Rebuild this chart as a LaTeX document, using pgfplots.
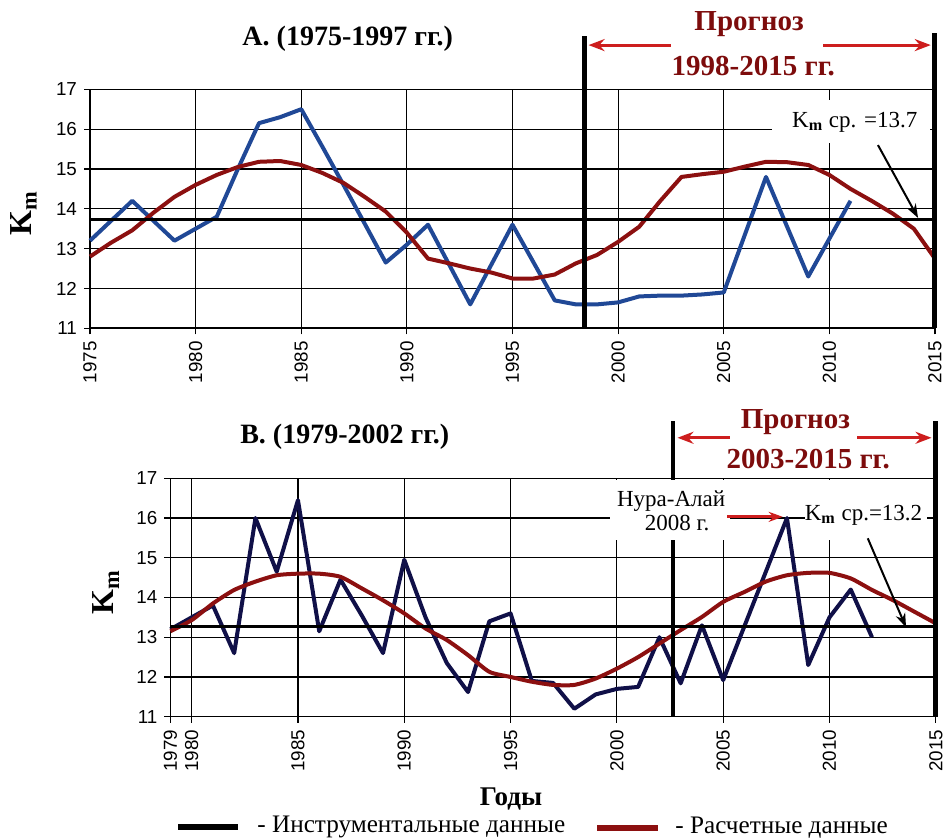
\documentclass[border=0pt]{standalone}
\usepackage{fontspec}
\setmainfont{Liberation Serif}
\setsansfont{Liberation Sans}
\usepackage{pgfplots}
\usepackage{pgfplotstable}
\pgfplotsset{compat=1.18}
\usetikzlibrary{arrows.meta}

\definecolor{blueA}{RGB}{32,72,150}
\definecolor{dred}{RGB}{140,16,16}
\definecolor{navyB}{RGB}{16,16,72}
\definecolor{arrred}{RGB}{205,30,30}
\definecolor{progred}{RGB}{125,12,12}

\pgfplotstableread{
year val
1975 13.2
1976 13.7
1977 14.2
1978 13.7
1979 13.2
1980 13.5
1981 13.8
1982 15.0
1983 16.15
1984 16.3
1985 16.5
1986 15.56
1987 14.6
1988 13.63
1989 12.65
1990 13.1
1991 13.6
1992 12.6
1993 11.6
1994 12.6
1995 13.6
1996 12.65
1997 11.7
1998 11.6
1999 11.6
2000 11.65
2001 11.8
2002 11.82
2003 11.82
2004 11.85
2005 11.9
2006 13.35
2007 14.8
2008 13.55
2009 12.3
2010 13.25
2011 14.2
}\instA

\pgfplotstableread{
year val
1975 12.8
1976 13.15
1977 13.46
1978 13.9
1979 14.3
1980 14.6
1981 14.85
1982 15.05
1983 15.18
1984 15.2
1985 15.1
1986 14.9
1987 14.65
1988 14.3
1989 13.93
1990 13.4
1991 12.75
1992 12.63
1993 12.5
1994 12.4
1995 12.25
1996 12.25
1997 12.35
1998 12.63
1999 12.84
2000 13.17
2001 13.55
2002 14.2
2003 14.8
2004 14.87
2005 14.93
2006 15.06
2007 15.18
2008 15.17
2009 15.1
2010 14.85
2011 14.5
2012 14.2
2013 13.88
2014 13.5
2015 12.75
}\calcA

\pgfplotstableread{
year val
1979 13.2
1980 13.5
1981 13.8
1982 12.6
1983 16.0
1984 14.65
1985 16.45
1986 13.15
1987 14.45
1988 13.55
1989 12.6
1990 14.95
1991 13.5
1992 12.35
1993 11.62
1994 13.4
1995 13.6
1996 11.9
1997 11.85
1998 11.2
1999 11.56
2000 11.7
2001 11.75
2002 13.0
2003 11.84
2004 13.3
2005 11.92
2006 13.28
2007 14.64
2008 16.0
2009 12.3
2010 13.5
2011 14.2
2012 13.0
}\instB

\pgfplotstableread{
year val
1979 13.15
1980 13.43
1981 13.85
1982 14.19
1983 14.4
1984 14.56
1985 14.6
1986 14.6
1987 14.52
1988 14.23
1989 13.93
1990 13.6
1991 13.22
1992 12.93
1993 12.55
1994 12.13
1995 12.0
1996 11.88
1997 11.8
1998 11.8
1999 11.96
2000 12.21
2001 12.5
2002 12.84
2003 13.18
2004 13.51
2005 13.89
2006 14.14
2007 14.4
2008 14.56
2009 14.62
2010 14.62
2011 14.48
2012 14.19
2013 13.93
2014 13.64
2015 13.35
}\calcB

\pgfplotsset{
  kmaxis/.style={
    scale only axis,
    anchor=south west,
    clip=false,
    axis lines=left,
    axis line style={-, black, line width=0.8pt},
    grid=major,
    grid style={black, line width=0.6pt},
    ymin=11, ymax=17,
    ytick={11,...,17},
    tick align=outside,
    major tick length=3pt,
    tick style={black, line width=0.6pt},
    /pgf/number format/assume math mode=true,
    /pgf/number format/1000 sep={},
    tick label style={font=\sffamily\fontsize{9.4}{11}\selectfont},
    x tick label style={rotate=90, anchor=east},
  }
}

\begin{document}
\begin{tikzpicture}
\useasboundingbox (0,0) rectangle (472pt,-419pt);

% ---------------- Top chart ----------------
\begin{axis}[kmaxis,
  at={(45pt,-164.15pt)},
  width=422.5pt, height=119.5pt,
  xmin=1975, xmax=2015,
  xtick={1975,1980,...,2015},
  ylabel={K\textsubscript{m}},
  every axis y label/.style={at={(axis cs:1971.85,13.9)}, rotate=90, anchor=center,
    font=\rmfamily\bfseries\fontsize{16}{18}\selectfont},
]
\addplot[blueA, line width=2pt, line join=round] table[x=year,y=val]{\instA};
\addplot[dred, line width=2pt, line join=round] table[x=year,y=val]{\calcA};
\addplot[black, line width=1.3pt] coordinates {(1975,13.73) (2015,13.73)};
\draw[black, line width=2.5pt] (axis cs:1998.4,11) -- (axis cs:1998.4,18.34);
\draw[black, line width=2.5pt] (axis cs:2015,11) -- (axis cs:2015,18.41);
\node[font=\rmfamily\bfseries\fontsize{14}{16}\selectfont] at (axis cs:1987.2,18.26) {А. (1975-1997 гг.)};
\node[font=\rmfamily\bfseries\fontsize{14.5}{16}\selectfont, text=progred] at (axis cs:2006.2,18.64) {Прогноз};
\node[font=\rmfamily\bfseries\fontsize{14.5}{16}\selectfont, text=progred] at (axis cs:2006.4,17.58) {1998-2015 гг.};
\draw[arrred, line width=1.5pt, -{Stealth[length=8pt,width=6pt]}] (axis cs:2002.5,18.11) -- (axis cs:1998.6,18.11);
\draw[arrred, line width=1.5pt, -{Stealth[length=8pt,width=6pt]}] (axis cs:2009.7,18.11) -- (axis cs:2014.8,18.11);
\fill[white] (axis cs:2007.3,15.65) rectangle (axis cs:2014.75,16.73);
\node[font=\rmfamily\fontsize{11.5}{13}\selectfont] at (axis cs:2011.2,16.18) {K\textsubscript{\textbf{m}} ср. =13.7};
\draw[black, line width=1pt, -{Stealth[length=7pt,width=5pt]}] (axis cs:2012.3,15.6) -- (axis cs:2014.2,13.77);
\end{axis}

% ---------------- Bottom chart ----------------
\begin{axis}[kmaxis,
  at={(85.2pt,-358.35pt)},
  width=382.7pt, height=119.2pt,
  xmin=1979, xmax=2015,
  xtick={1979,1980,1985,1990,1995,2000,2005,2010,2015},
  ylabel={K\textsubscript{m}},
  every axis y label/.style={at={(axis cs:1975.97,14.14)}, rotate=90, anchor=center,
    font=\rmfamily\bfseries\fontsize{16}{18}\selectfont},
  xlabel={Годы},
  every axis x label/.style={at={(axis cs:1995.02,8.92)}, anchor=center,
    font=\rmfamily\bfseries\fontsize{13.5}{15}\selectfont},
]
\addplot[navyB, line width=2pt, line join=round] table[x=year,y=val]{\instB};
\addplot[dred, line width=2pt, smooth, tension=0.4] table[x=year,y=val]{\calcB};
\addplot[black, line width=1.3pt] coordinates {(1979,13.27) (2015,13.27)};
\draw[black, line width=2.2pt] (axis cs:2002.65,11) -- (axis cs:2002.65,18.43);
\draw[black, line width=2.5pt] (axis cs:2015,11) -- (axis cs:2015,18.43);
\node[font=\rmfamily\bfseries\fontsize{14}{16}\selectfont] at (axis cs:1987.2,18.04) {В. (1979-2002 гг.)};
\node[font=\rmfamily\bfseries\fontsize{14.5}{16}\selectfont, text=progred] at (axis cs:2008.4,18.42) {Прогноз};
\node[font=\rmfamily\bfseries\fontsize{14.5}{16}\selectfont, text=progred] at (axis cs:2009.0,17.49) {2003-2015 гг.};
\draw[arrred, line width=1.5pt, -{Stealth[length=8pt,width=6pt]}] (axis cs:2005.3,18.02) -- (axis cs:2002.85,18.02);
\draw[arrred, line width=1.5pt, -{Stealth[length=8pt,width=6pt]}] (axis cs:2011.3,18.02) -- (axis cs:2014.8,18.02);
\fill[white] (axis cs:1999.67,15.45) rectangle (axis cs:2005.3,16.95);
\node[font=\rmfamily\fontsize{11.5}{13}\selectfont, align=center, inner sep=0pt] at (axis cs:2002.55,16.18) {Нура-Алай\\[-1pt]\hspace*{6pt}2008 г.};
\draw[arrred, line width=1.5pt, -{Stealth[length=7pt,width=5pt]}] (axis cs:2005.2,16.03) -- (axis cs:2007.8,16.03);
\fill[white] (axis cs:2008.85,15.45) rectangle (axis cs:2014.6,16.95);
\node[font=\rmfamily\fontsize{11.5}{13}\selectfont] at (axis cs:2011.6,16.08) {K\textsubscript{\textbf{m}} ср.=13.2};
\draw[black, line width=1pt, -{Stealth[length=7pt,width=5pt]}] (axis cs:2011.8,15.49) -- (axis cs:2013.6,13.25);
\end{axis}

% ---------------- Legend ----------------
\draw[black, line width=2.6pt] (89pt,-413.5pt) -- (119pt,-413.5pt);
\node[anchor=west, font=\rmfamily\fontsize{12.6}{15}\selectfont, inner sep=0pt] at (128.5pt,-413.5pt) {- Инструментальные данные};
\draw[dred, line width=2.6pt] (298.5pt,-414pt) -- (329pt,-414pt);
\node[anchor=west, font=\rmfamily\fontsize{12.6}{15}\selectfont, inner sep=0pt] at (337.5pt,-414pt) {- Расчетные данные};
\end{tikzpicture}
\end{document}
